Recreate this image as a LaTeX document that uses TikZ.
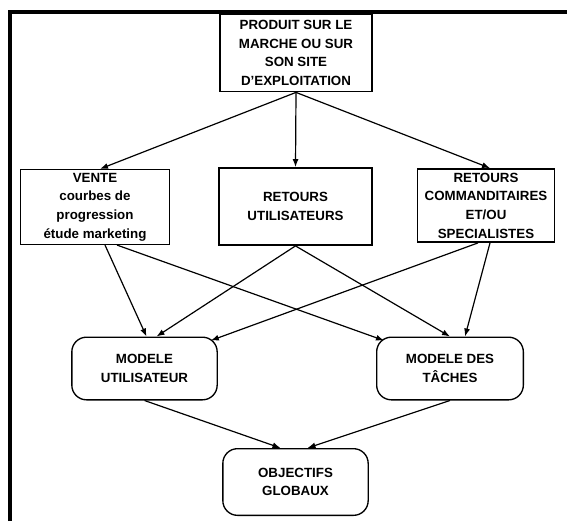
\documentclass[tikz,border=0pt]{standalone}
\usepackage{fontspec}
\setmainfont{Liberation Sans}
\usetikzlibrary{arrows.meta,calc}

\begin{document}
\begin{tikzpicture}[x=0.75pt,y=-0.75pt,
            bloc/.style={draw,line width=1.1pt,align=center,inner sep=1pt,font=\fontsize{10}{14}\selectfont\bfseries},
            arrondi/.style={bloc,line width=1pt,rounded corners=11pt},
            fleche/.style={line width=0.9pt,-{Latex[length=6pt,width=4.5pt]}}]
            \useasboundingbox (0,0) rectangle (567,521);
            \draw[line width=3pt] (10,521) -- (10,12) -- (567,12);
            \node[bloc,minimum width=114pt,minimum height=58pt] (produit) at (296,53) {PRODUIT SUR LE\\MARCHE OU SUR\\SON SITE\\D'EXPLOITATION};
            \node[bloc,minimum width=112pt,minimum height=56pt] (vente) at (95,207) {VENTE\\courbes de\\progression\\\'etude marketing};
            \node[bloc,minimum width=115pt,minimum height=58pt] (retutil) at (295.5,206.5) {RETOURS\\UTILISATEURS};
            \node[bloc,minimum width=103pt,minimum height=55pt] (retcomm) at (486,205.5) {RETOURS\\COMMANDITAIRES\\ET/OU\\SPECIALISTES};
            \node[arrondi,minimum width=109pt,minimum height=47pt] (modutil) at (144.5,368.5) {MODELE\\UTILISATEUR};
            \node[arrondi,minimum width=110pt,minimum height=47pt] (modtach) at (450,368.5) {MODELE DES\\T\^ACHES};
            \node[arrondi,minimum width=109pt,minimum height=50pt] (objectifs) at (295.5,482) {OBJECTIFS\\GLOBAUX};
            \draw[fleche] (produit.south) -- ($(vente.north)+(5,0)$);
            \draw[fleche] (produit.south) -- (retutil.north);
            \draw[fleche] (produit.south) -- ($(retcomm.north)+(4,0)$);
            \draw[fleche] ($(vente.south)+(10,0)$) -- ($(modutil.north)+(2,0)$);
            \draw[fleche] ($(vente.south)+(22,0)$) -- ($(modtach.north west)+(8,4)$);
            \draw[fleche] (retutil.south) -- ($(modutil.north)+(12,0)$);
            \draw[fleche] (retutil.south) -- (modtach.north);
            \draw[fleche] ($(retcomm.south)+(-8,0)$) -- ($(modutil.north east)+(-7,4)$);
            \draw[fleche] ($(retcomm.south)+(4,0)$) -- ($(modtach.north)+(15,0)$);
            \draw[fleche] (modutil.south) -- ($(objectifs.north)+(-15,0)$);
            \draw[fleche] (modtach.south) -- ($(objectifs.north)+(12,0)$);
        \end{tikzpicture}
\end{document}
